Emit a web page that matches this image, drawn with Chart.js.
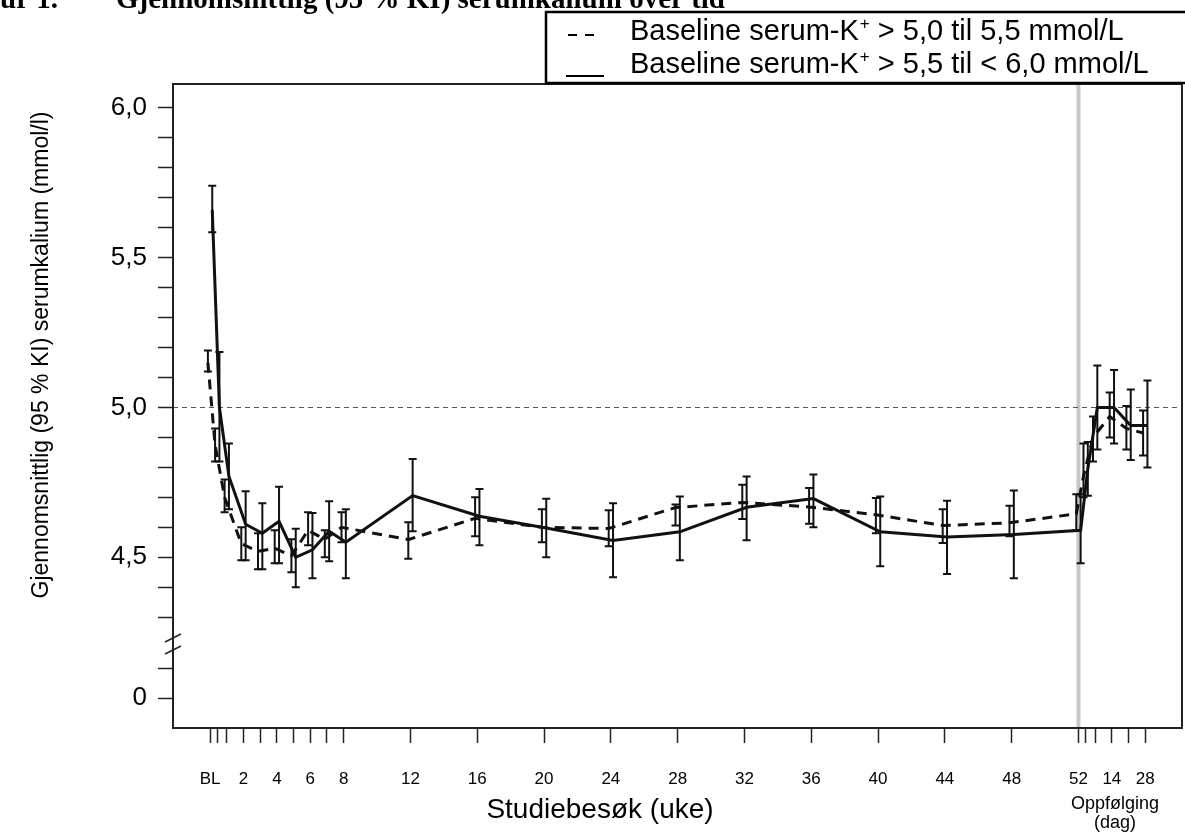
<!DOCTYPE html>
<html>
<head>
<meta charset="utf-8">
<script src="https://cdn.jsdelivr.net/npm/chart.js@4.4.1/dist/chart.umd.min.js"></script>
<style>
  html, body { margin: 0; padding: 0; background: #fff; }
  #wrap { position: relative; width: 1185px; height: 832px; }
</style>
</head>
<body>
<div id="wrap"><canvas id="chart"></canvas></div>
<script>
// study visits in weeks (follow-up days converted: day 3, 7, 14, 21, 28 after week 52)
const visitWeeks = [0, 0.43, 1, 2, 3, 4, 5, 6, 7, 8, 12, 16, 20, 24, 28, 32, 36, 40, 44, 48, 52, 52.43, 53, 54, 55, 56]

// Baseline serum-K+ > 5,0 til 5,5 mmol/L (dashed)
const lowMean = [5.15, 4.875, 4.70, 4.545, 4.52, 4.53, 4.505, 4.59, 4.56, 4.60, 4.559, 4.63, 4.60, 4.596, 4.666, 4.683, 4.668, 4.642, 4.606, 4.615, 4.645, 4.77, 4.90, 4.97, 4.93, 4.915]
const lowCiLower = [5.12, 4.82, 4.65, 4.49, 4.46, 4.48, 4.45, 4.54, 4.50, 4.55, 4.495, 4.57, 4.55, 4.537, 4.606, 4.628, 4.612, 4.58, 4.548, 4.57, 4.59, 4.70, 4.82, 4.90, 4.86, 4.84]
const lowCiUpper = [5.19, 4.93, 4.76, 4.60, 4.58, 4.59, 4.56, 4.65, 4.59, 4.65, 4.617, 4.70, 4.66, 4.657, 4.676, 4.742, 4.731, 4.698, 4.66, 4.672, 4.71, 4.88, 4.97, 5.05, 5.005, 4.99]

// Baseline serum-K+ > 5,5 til < 6,0 mmol/L (solid)
const highMean = [5.66, 5.00, 4.77, 4.61, 4.58, 4.62, 4.50, 4.525, 4.587, 4.55, 4.706, 4.637, 4.598, 4.556, 4.585, 4.667, 4.696, 4.585, 4.568, 4.576, 4.59, 4.795, 5.00, 5.00, 4.94, 4.94]
const highCiLower = [5.585, 4.82, 4.66, 4.49, 4.46, 4.48, 4.40, 4.43, 4.487, 4.43, 4.587, 4.54, 4.50, 4.433, 4.49, 4.557, 4.60, 4.47, 4.444, 4.43, 4.48, 4.705, 4.86, 4.88, 4.825, 4.80]
const highCiUpper = [5.74, 5.185, 4.88, 4.72, 4.68, 4.735, 4.595, 4.648, 4.687, 4.66, 4.828, 4.728, 4.695, 4.68, 4.703, 4.77, 4.776, 4.703, 4.689, 4.723, 4.71, 4.885, 5.14, 5.125, 5.06, 5.09]

// x ticks and their labels
const xTickValues = [0, 0.43, 1, 2, 3, 4, 5, 6, 7, 8, 12, 16, 20, 24, 28, 32, 36, 40, 44, 48, 52, 52.43, 53, 54, 55, 56]
const xTickLabels = { 0: 'BL', 2: '2', 4: '4', 6: '6', 8: '8', 12: '12', 16: '16', 20: '20', 24: '24', 28: '28', 32: '32', 36: '36', 40: '40', 44: '44', 48: '48', 52: '52', 54: '14', 56: '28' }

// y ticks (axis is broken below 4,3; the "0" tick sits just above the x axis)
const yTickValues = [6.0, 5.9, 5.8, 5.7, 5.6, 5.5, 5.4, 5.3, 5.2, 5.1, 5.0, 4.9, 4.8, 4.7, 4.6, 4.5, 4.4, 4.3, 4.13, 4.03]
const yTickLabels = { '6.00': '6,0', '5.50': '5,5', '5.00': '5,0', '4.50': '4,5', '4.03': '0' }

const legendLabels = [
  ['Baseline serum-K', '+', ' > 5,0 til 5,5 mmol/L'],
  ['Baseline serum-K', '+', ' > 5,5 til < 6,0 mmol/L'],
]

const ink = '#111'
const sansFont = '"Liberation Sans", Arial, sans-serif'
const groupShift = 0.13

function points(mean, shift) {
  return visitWeeks.map((w, i) => ({ x: w + shift, y: mean[i] }))
}

const decorations = {
  id: 'decorations',
  beforeDatasetsDraw(chart) {
    const { ctx, chartArea: a, scales: { x, y } } = chart
    ctx.save()
    const xd = x.getPixelForValue(52)
    ctx.strokeStyle = '#c8c8c8'
    ctx.lineWidth = 4
    ctx.beginPath()
    ctx.moveTo(xd, a.top)
    ctx.lineTo(xd, a.bottom)
    ctx.stroke()

    const yr = y.getPixelForValue(5)
    ctx.strokeStyle = '#555'
    ctx.lineWidth = 1
    ctx.setLineDash([5, 4])
    ctx.beginPath()
    ctx.moveTo(a.left, yr)
    ctx.lineTo(a.right, yr)
    ctx.stroke()
    ctx.restore()
  },
  afterDatasetsDraw(chart) {
    const { ctx, scales: { y } } = chart
    ctx.save()
    ctx.strokeStyle = ink
    ctx.lineWidth = 2
    chart.data.datasets.forEach((ds, di) => {
      const meta = chart.getDatasetMeta(di)
      meta.data.forEach((pt, i) => {
        const top = y.getPixelForValue(ds.ciUpper[i])
        const bottom = y.getPixelForValue(ds.ciLower[i])
        ctx.beginPath()
        ctx.moveTo(pt.x, top)
        ctx.lineTo(pt.x, bottom)
        ctx.moveTo(pt.x - 4, top)
        ctx.lineTo(pt.x + 4, top)
        ctx.moveTo(pt.x - 4, bottom)
        ctx.lineTo(pt.x + 4, bottom)
        ctx.stroke()
      })
    })
    ctx.restore()
  },
  afterDraw(chart) {
    const { ctx, chartArea: a } = chart
    ctx.save()

    // frame
    ctx.strokeStyle = '#222'
    ctx.lineWidth = 2
    ctx.strokeRect(a.left, a.top, a.right - a.left, a.bottom - a.top)

    // axis break marks
    ctx.strokeStyle = '#222'
    ctx.lineWidth = 1.5
    ;[638, 650].forEach((yb) => {
      ctx.beginPath()
      ctx.moveTo(a.left - 8, yb + 4)
      ctx.lineTo(a.left + 8, yb - 4)
      ctx.stroke()
    })

    // cut-off document caption at the top
    ctx.fillStyle = '#000'
    ctx.font = 'bold 29px "Liberation Serif", "Times New Roman", serif'
    ctx.textBaseline = 'alphabetic'
    ctx.textAlign = 'left'
    const figOffset = ctx.measureText('Fig').width
    ctx.fillText('Figur 1.', -figOffset, 8)
    ctx.fillText('Gjennomsnittlig (95 % KI) serumkalium over tid', 116, 8)

    // legend box
    ctx.fillStyle = '#fff'
    ctx.fillRect(546, 12, 645, 71)
    ctx.strokeStyle = '#000'
    ctx.lineWidth = 2.5
    ctx.strokeRect(546, 12, 645, 71)
    const rowY = [32, 65]
    ctx.lineWidth = 2
    ctx.setLineDash([9, 8])
    ctx.beginPath()
    ctx.moveTo(568, rowY[0] + 3)
    ctx.lineTo(595, rowY[0] + 3)
    ctx.stroke()
    ctx.setLineDash([])
    ctx.beginPath()
    ctx.moveTo(566, rowY[1] + 11)
    ctx.lineTo(604, rowY[1] + 11)
    ctx.stroke()
    ctx.fillStyle = '#000'
    ctx.textBaseline = 'middle'
    legendLabels.forEach((parts, i) => {
      let tx = 630
      ctx.font = '29px ' + sansFont
      ctx.fillText(parts[0], tx, rowY[i])
      tx += ctx.measureText(parts[0]).width + 1
      ctx.font = '17px ' + sansFont
      ctx.fillText(parts[1], tx, rowY[i] - 8)
      tx += ctx.measureText(parts[1]).width
      ctx.font = '29px ' + sansFont
      ctx.fillText(parts[2], tx, rowY[i])
    })

    // axis titles
    ctx.textAlign = 'center'
    ctx.textBaseline = 'alphabetic'
    ctx.font = '28px ' + sansFont
    ctx.fillText('Studiebesøk (uke)', 600, 818)
    ctx.font = '18px ' + sansFont
    ctx.textBaseline = 'middle'
    ctx.fillText('Oppfølging', 1115, 804)
    ctx.fillText('(dag)', 1115, 823)

    ctx.translate(42, 355)
    ctx.rotate(-Math.PI / 2)
    ctx.font = '23px ' + sansFont
    ctx.fillText('Gjennomsnittlig (95 % KI) serumkalium (mmol/l)', 0, 0)
    ctx.restore()
  },
}

new Chart(document.getElementById('chart'), {
  type: 'line',
  data: {
    datasets: [
      {
        label: 'Baseline serum-K+ > 5,0 til 5,5 mmol/L',
        data: points(lowMean, -groupShift),
        ciLower: lowCiLower,
        ciUpper: lowCiUpper,
        borderColor: ink,
        borderWidth: 3,
        borderDash: [10, 7],
        pointRadius: 0,
        tension: 0,
      },
      {
        label: 'Baseline serum-K+ > 5,5 til < 6,0 mmol/L',
        data: points(highMean, groupShift),
        ciLower: highCiLower,
        ciUpper: highCiUpper,
        borderColor: ink,
        borderWidth: 3,
        pointRadius: 0,
        tension: 0,
      },
    ],
  },
  options: {
    responsive: true,
    maintainAspectRatio: false,
    animation: false,
    layout: { padding: { top: 84, right: 3, left: 0, bottom: 0 } },
    plugins: {
      legend: { display: false },
      tooltip: { enabled: false },
    },
    scales: {
      x: {
        type: 'linear',
        min: -2.22,
        max: 58.2,
        afterFit: (scale) => { scale.height = 104 },
        afterBuildTicks: (scale) => { scale.ticks = xTickValues.map((v) => ({ value: v })) },
        border: { display: false },
        grid: { drawOnChartArea: false, drawTicks: true, tickLength: 15, tickColor: '#222', tickWidth: 1.5 },
        ticks: {
          autoSkip: false,
          maxRotation: 0,
          padding: 26,
          color: '#000',
          font: { family: sansFont, size: 17 },
          callback: (v) => xTickLabels[v] || '',
        },
      },
      y: {
        type: 'linear',
        min: 3.93,
        max: 6.08,
        afterFit: (scale) => { scale.width = 173 },
        afterBuildTicks: (scale) => { scale.ticks = yTickValues.map((v) => ({ value: v })) },
        border: { display: false },
        grid: { drawOnChartArea: false, drawTicks: true, tickLength: 15, tickColor: '#222', tickWidth: 1.5 },
        ticks: {
          autoSkip: false,
          padding: 11,
          color: '#000',
          font: { family: sansFont, size: 26 },
          callback: (v) => yTickLabels[Number(v).toFixed(2)] || '',
        },
      },
    },
  },
  plugins: [decorations],
})
</script>
</body>
</html>
